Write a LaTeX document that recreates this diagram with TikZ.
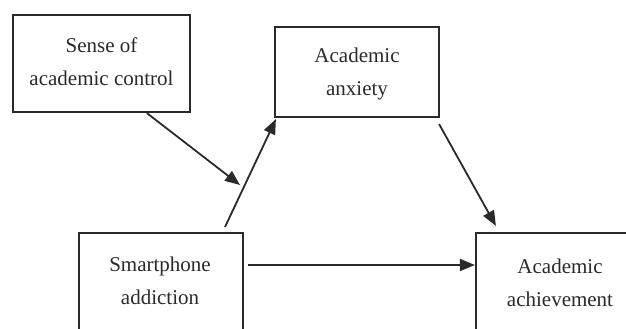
\documentclass[tikz,border=0pt]{standalone}
\usepackage{fontspec}
\setmainfont{Liberation Serif}
\usetikzlibrary{arrows.meta,calc}
\definecolor{ink}{HTML}{2A2A2A}
\begin{document}
\begin{tikzpicture}[x=1pt,y=-1pt,
  box/.style={draw=ink,line width=2.2pt,inner sep=0pt,fill=white},
  lbl/.style={text=ink,font=\fontsize{21}{33}\selectfont,align=center,inner sep=0pt},
  arr/.style={draw=ink,line width=1.8pt,-{Triangle[length=15pt,width=12pt]}}]
\useasboundingbox (0,0) rectangle (626,329);
\clip (0,0) rectangle (626,329);
% boxes
\node[box,minimum width=177pt,minimum height=97pt] (sc) at (101.5,63.5) {};
\node[box,minimum width=164pt,minimum height=90pt] (an) at (357,72) {};
\node[box,minimum width=164pt,minimum height=120pt] (sm) at (161,293) {};
\node[box,minimum width=168pt,minimum height=120pt] (ac) at (560,293) {};
% labels
\node[lbl] (sct) at (101.5,62) {Sense of\\academic control};
\node[lbl] (ant) at (357,74) {Academic\\anxiety};
\node[lbl] (smt) at (160,281) {Smartphone\\addiction};
\node[lbl] (act) at (560,283) {Academic\\achievement};
% connectors
\coordinate (t1) at (240,185);
\coordinate (s2) at (225,227);
\coordinate (s4) at (248,265);
\draw[arr] ($(sc.south west)+(135,0)$) -- (t1);
\draw[arr] (s2) -- ($(an.south west)+(2,1)$);
\draw[arr] ($(an.south east)+(-1,6)$) -- ($(ac.north west)+(21,-6)$);
\draw[arr] (s4) -- (s4 -| ac.west);
\end{tikzpicture}
\end{document}
